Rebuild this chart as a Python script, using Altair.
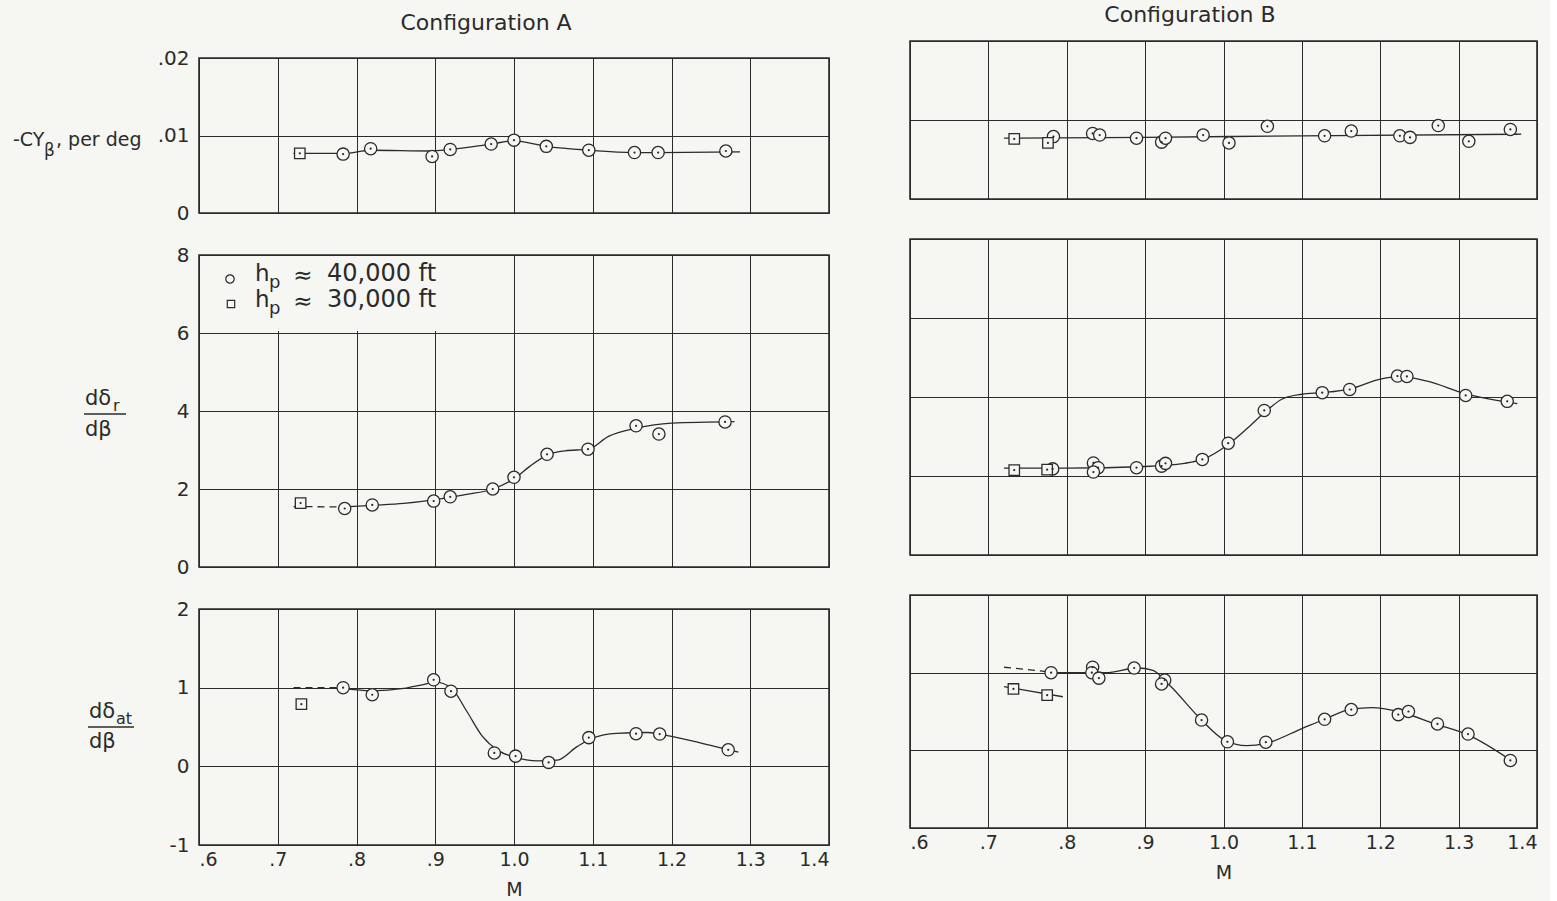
import altair as alt
import pandas as pd

BG = "#f6f6f3"
INK = "#2b2b2b"
FONT = "DejaVu Sans"

M_TICKS = [0.6, 0.7, 0.8, 0.9, 1.0, 1.1, 1.2, 1.3, 1.4]

# ---------------- Configuration A ----------------
# -Cy_beta, per deg
a1_circ_M = [0.783, 0.818, 0.896, 0.919, 0.971, 1.000, 1.041, 1.095, 1.153, 1.183, 1.269]
a1_circ_v = [0.0076, 0.0083, 0.0073, 0.0082, 0.0089, 0.0094, 0.0086, 0.0081, 0.0078, 0.0078, 0.0080]
a1_sq_M = [0.728]
a1_sq_v = [0.0077]
a1_fair_M = [0.72, 0.784, 0.818, 0.894, 0.919, 0.971, 1.0, 1.041, 1.095, 1.153, 1.183, 1.287]
a1_fair_v = [0.0077, 0.0077, 0.0081, 0.0080, 0.0082, 0.0089, 0.0093, 0.0086, 0.0081, 0.0078, 0.0078, 0.0079]

# d delta_r / d beta
a2_circ_M = [0.785, 0.820, 0.898, 0.919, 0.973, 1.000, 1.042, 1.094, 1.155, 1.184, 1.268]
a2_circ_v = [1.50, 1.59, 1.69, 1.80, 2.00, 2.30, 2.89, 3.02, 3.62, 3.41, 3.72]
a2_sq_M = [0.729]
a2_sq_v = [1.64]
a2_dash_M = [0.72, 0.785]
a2_dash_v = [1.55, 1.54]
a2_fair_M = [0.785, 0.82, 0.86, 0.898, 0.94, 0.973, 1.0, 1.02, 1.042, 1.065, 1.094, 1.12, 1.155, 1.2, 1.28]
a2_fair_v = [1.54, 1.58, 1.63, 1.72, 1.86, 2.00, 2.26, 2.58, 2.87, 2.98, 3.02, 3.35, 3.56, 3.69, 3.73]

# d delta_at / d beta
a3_circ_M = [0.783, 0.820, 0.898, 0.920, 0.975, 1.002, 1.044, 1.095, 1.155, 1.185, 1.272]
a3_circ_v = [1.00, 0.91, 1.10, 0.955, 0.17, 0.13, 0.05, 0.365, 0.415, 0.41, 0.21]
a3_sq_M = [0.730]
a3_sq_v = [0.79]
a3_dash_M = [0.72, 0.775]
a3_dash_v = [1.00, 1.00]
a3_fair_M = [0.775, 0.82, 0.86, 0.885, 0.90, 0.92, 0.94, 0.96, 0.98, 1.0, 1.03, 1.055, 1.08, 1.10, 1.13, 1.17, 1.20, 1.24, 1.285]
a3_fair_v = [1.00, 0.96, 0.99, 1.04, 1.07, 1.00, 0.70, 0.38, 0.20, 0.12, 0.07, 0.08, 0.25, 0.36, 0.42, 0.43, 0.38, 0.29, 0.18]

# ---------------- Configuration B ----------------
b1_circ_M = [0.783, 0.833, 0.842, 0.889, 0.921, 0.926, 0.974, 1.007, 1.056, 1.129, 1.163, 1.225, 1.238, 1.274, 1.313, 1.366]
b1_circ_v = [0.0079, 0.0083, 0.0081, 0.0077, 0.0072, 0.0077, 0.0081, 0.0071, 0.0092, 0.0080, 0.0086, 0.0080, 0.0078, 0.0093, 0.0073, 0.0088]
b1_sq_M = [0.733, 0.776]
b1_sq_v = [0.0076, 0.0071]
b1_fair_M = [0.72, 0.90, 1.10, 1.38]
b1_fair_v = [0.0077, 0.0078, 0.0080, 0.0082]

b2_circ_M = [0.782, 0.834, 0.840, 0.834, 0.889, 0.921, 0.926, 0.973, 1.006, 1.052, 1.126, 1.161, 1.222, 1.234, 1.309, 1.362]
b2_circ_v = [2.18, 2.33, 2.21, 2.10, 2.21, 2.25, 2.32, 2.42, 2.83, 3.66, 4.11, 4.19, 4.53, 4.52, 4.04, 3.89]
b2_sq_M = [0.733, 0.775]
b2_sq_v = [2.15, 2.16]
b2_fair_M = [0.72, 0.80, 0.90, 0.95, 0.973, 1.006, 1.03, 1.052, 1.075, 1.10, 1.126, 1.161, 1.20, 1.225, 1.26, 1.309, 1.375]
b2_fair_v = [2.20, 2.20, 2.24, 2.32, 2.42, 2.80, 3.20, 3.60, 3.95, 4.07, 4.11, 4.20, 4.45, 4.52, 4.40, 4.08, 3.83]

b3_circ_M = [0.780, 0.833, 0.832, 0.841, 0.886, 0.925, 0.921, 0.972, 1.005, 1.054, 1.129, 1.163, 1.223, 1.236, 1.273, 1.312, 1.366]
b3_circ_v = [1.00, 1.07, 1.00, 0.93, 1.06, 0.905, 0.855, 0.39, 0.11, 0.105, 0.40, 0.525, 0.46, 0.50, 0.34, 0.21, -0.13]
b3_sq_M = [0.732, 0.775]
b3_sq_v = [0.79, 0.71]
b3_sqfair_M = [0.72, 0.795]
b3_sqfair_v = [0.82, 0.69]
b3_dash_M = [0.72, 0.778]
b3_dash_v = [1.07, 1.01]
b3_fair_M = [0.778, 0.85, 0.89, 0.91, 0.93, 0.972, 1.0, 1.03, 1.054, 1.10, 1.129, 1.163, 1.19, 1.223, 1.27, 1.312, 1.37]
b3_fair_v = [1.00, 1.00, 1.06, 1.03, 0.85, 0.39, 0.14, 0.06, 0.09, 0.28, 0.40, 0.53, 0.55, 0.50, 0.34, 0.20, -0.15]


def df(ms, vs):
    return pd.DataFrame({"M": ms, "v": vs})


ONE = pd.DataFrame({"k": [0]})


def txt(s, x, y, size=19, align="left", color=INK):
    return alt.Chart(ONE).mark_text(
        text=s, align=align, baseline="middle", font=FONT, fontSize=size, color=color
    ).encode(x=alt.value(x), y=alt.value(y))


def rule(x1, x2, y):
    return alt.Chart(ONE).mark_rule(color=INK, strokeWidth=1.3).encode(
        x=alt.value(x1), x2=alt.value(x2), y=alt.value(y)
    )


XLAB = "datum.value < 0.99 ? slice(format(datum.value, '.1f'), 1) : format(datum.value, '.1f')"


def panel(w, h, ydom, yvals, ylabexpr, show_y, show_x, circ, sq, solids, dashes, extras_after=()):
    if show_x:
        xaxis = alt.Axis(values=M_TICKS, grid=True, labels=True, labelExpr=XLAB, labelPadding=5,
                         labelFontSize=19, title="M", titlePadding=11)
    else:
        xaxis = alt.Axis(values=M_TICKS, grid=True, labels=False, title=None)
    if show_y:
        yaxis = alt.Axis(values=yvals, grid=True, labels=True, labelExpr=ylabexpr, labelPadding=10,
                         labelFontSize=20, title=None)
    else:
        yaxis = alt.Axis(values=yvals, grid=True, labels=False, title=None)
    X = alt.X("M:Q", scale=alt.Scale(domain=[0.6, 1.4], nice=False, zero=False), axis=xaxis)
    Y = alt.Y("v:Q", scale=alt.Scale(domain=ydom, nice=False, zero=False), axis=yaxis)
    layers = []
    for s in solids:
        layers.append(alt.Chart(s).mark_line(color=INK, strokeWidth=1.3, interpolate="monotone").encode(x=X, y=Y))
    for s in dashes:
        layers.append(alt.Chart(s).mark_line(color=INK, strokeWidth=1.3, strokeDash=[7, 5]).encode(x=X, y=Y))
    layers.append(alt.Chart(circ).mark_point(shape="circle", filled=True, fill=BG, stroke=INK,
                                             strokeWidth=1.3, size=150, opacity=1).encode(x=X, y=Y))
    layers.append(alt.Chart(sq).mark_point(shape="square", filled=True, fill=BG, stroke=INK,
                                           strokeWidth=1.3, size=110, opacity=1).encode(x=X, y=Y))
    layers.append(alt.Chart(pd.concat([circ, sq])).mark_point(shape="circle", filled=True, color=INK,
                                                             size=5, opacity=1).encode(x=X, y=Y))
    layers += list(extras_after)
    return alt.layer(*layers).properties(width=w, height=h)


def title_panel(w, h, s, x, y):
    return alt.Chart(ONE).mark_text(
        text=s, align="center", baseline="middle", font=FONT, fontSize=22, color=INK
    ).encode(x=alt.value(x), y=alt.value(y)).properties(
        width=w, height=h, view=alt.ViewBackground(strokeOpacity=0)
    )


Y1LAB = "datum.value == 0 ? '0' : slice(format(datum.value, '.2f'), 1)"
YLAB = "'' + datum.value"

# legend block for A2
legend = [
    alt.Chart(ONE).mark_rect(color=BG).encode(x=alt.value(1), x2=alt.value(250), y=alt.value(1), y2=alt.value(76)),
    alt.Chart(ONE).mark_point(shape="circle", filled=True, fill=BG, stroke=INK, strokeWidth=1.2,
                              size=70, opacity=1).encode(x=alt.value(31), y=alt.value(24)),
    alt.Chart(ONE).mark_point(shape="square", filled=True, fill=BG, stroke=INK, strokeWidth=1.2,
                              size=55, opacity=1).encode(x=alt.value(32), y=alt.value(49)),
    txt("h", 56, 19, 23), txt("p", 70, 28, 18), txt("≈", 104, 21, 23, "center"), txt("40,000 ft", 128, 19, 24),
    txt("h", 56, 45, 23), txt("p", 70, 54, 18), txt("≈", 104, 47, 23, "center"), txt("30,000 ft", 128, 45, 24),
]

TA = title_panel(630, 16, "Configuration A", 287, 23)
A1 = panel(630, 155, [0, 0.02], [0, 0.01, 0.02], Y1LAB, True, False,
           df(a1_circ_M, a1_circ_v), df(a1_sq_M, a1_sq_v), [df(a1_fair_M, a1_fair_v)], [],
           extras_after=[
               txt("-CY", -186, 82, 19), txt("β", -155, 93, 17), txt(", per deg", -143, 82, 19),
           ])
A2 = panel(630, 312, [0, 8], [0, 2, 4, 6, 8], YLAB, True, False,
           df(a2_circ_M, a2_circ_v), df(a2_sq_M, a2_sq_v), [df(a2_fair_M, a2_fair_v)],
           [df(a2_dash_M, a2_dash_v)],
           extras_after=legend + [
               txt("dδ", -114, 144, 21), txt("r", -86, 151, 16), rule(-115, -73, 159), txt("dβ", -114, 175, 21),
           ])
A3 = panel(630, 236, [-1, 2], [-1, 0, 1, 2], YLAB, True, True,
           df(a3_circ_M, a3_circ_v), df(a3_sq_M, a3_sq_v), [df(a3_fair_M, a3_fair_v)],
           [df(a3_dash_M, a3_dash_v)],
           extras_after=[
               txt("dδ", -110, 103, 21), txt("at", -83, 110, 16), rule(-111, -65, 118), txt("dβ", -110, 133, 21),
           ])

TB = title_panel(627, 1, "Configuration B", 280, 15)
B1 = panel(627, 158, [0, 0.02], [0, 0.01, 0.02], Y1LAB, False, False,
           df(b1_circ_M, b1_circ_v), df(b1_sq_M, b1_sq_v), [df(b1_fair_M, b1_fair_v)], [])
B2 = panel(627, 316, [0, 8], [0, 2, 4, 6, 8], YLAB, False, False,
           df(b2_circ_M, b2_circ_v), df(b2_sq_M, b2_sq_v), [df(b2_fair_M, b2_fair_v)], [])
B3 = panel(627, 233, [-1, 2], [-1, 0, 1, 2], YLAB, False, True,
           df(b3_circ_M, b3_circ_v), df(b3_sq_M, b3_sq_v),
           [df(b3_fair_M, b3_fair_v), df(b3_sqfair_M, b3_sqfair_v)], [df(b3_dash_M, b3_dash_v)])

colA = alt.vconcat(TA, A1, A2, A3, spacing=42, bounds="flush")
colB = alt.vconcat(TB, B1, B2, B3, spacing=40, bounds="flush")

chart = alt.hconcat(colA, colB, spacing=79, bounds="full").properties(
    background=BG, padding={"left": 12, "top": 0, "right": 12, "bottom": 1}
).configure_view(
    stroke=INK, strokeWidth=1.6
).configure_axis(
    domain=False, ticks=False, gridColor=INK, gridOpacity=1, gridWidth=1,
    labelFont=FONT, labelColor=INK, titleFont=FONT, titleColor=INK,
    titleFontWeight="normal", titleFontSize=19
)

chart.save("out.html", embed_options={"renderer": "svg", "actions": False})
